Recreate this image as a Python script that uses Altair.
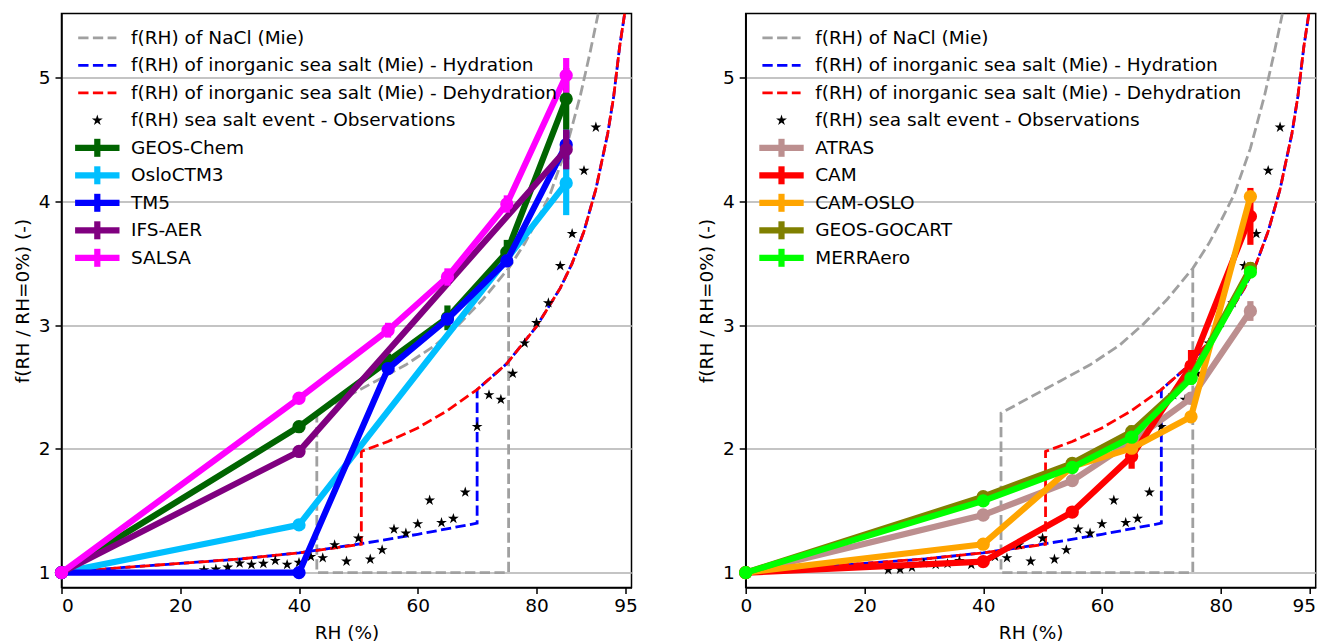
import altair as alt
import pandas as pd

# ---------------- axes ----------------
RH_TICKS = [0, 20, 40, 60, 80, 95]
F_TICKS = [1, 2, 3, 4, 5]
RH_MAX = 96.0
F_MIN, F_MAX = 0.88, 5.52
W, H = 570, 574

# ---------------- reference curves ----------------
ref_labels = [
    "f(RH) of NaCl (Mie)",
    "f(RH) of inorganic sea salt (Mie) - Hydration",
    "f(RH) of inorganic sea salt (Mie) - Dehydration",
    "f(RH) sea salt event - Observations",
]
ref_colors = ["#a0a0a0", "#0000ff", "#ff0000"]

nacl_rh = [90.4, 89.0, 87.4, 85.0, 82.3, 80.0, 78.0, 75.3, 71.0, 67.0, 63.0, 58.0,
           53.0, 48.0, 43.0, 43.0, 75.3, 75.3]
nacl_f = [5.52, 5.20, 4.86, 4.43, 4.06, 3.84, 3.66, 3.46, 3.21, 3.01, 2.84, 2.68,
          2.55, 2.42, 2.29, 1.00, 1.00, 3.46]

hyd_rh = [0, 10, 20, 30, 40, 50, 60, 70, 70, 75, 80, 84, 86, 88, 90, 92, 93, 94, 94.85]
hyd_f = [1.00, 1.04, 1.075, 1.11, 1.16, 1.23, 1.31, 1.40, 2.48, 2.69, 2.99, 3.30,
         3.50, 3.76, 4.10, 4.55, 4.85, 5.25, 5.52]

deh_rh = [94.85, 94, 93, 92, 90, 88, 86, 84, 80, 75, 70, 65, 60, 55, 50.5, 50.5,
          40, 30, 20, 10, 0]
deh_f = [5.52, 5.25, 4.85, 4.55, 4.10, 3.76, 3.50, 3.30, 2.99, 2.69, 2.48, 2.31,
         2.17, 2.06, 1.98, 1.23, 1.16, 1.11, 1.075, 1.04, 1.00]

obs_rh = [24, 26, 28, 30, 32, 34, 36, 38, 40, 42, 44, 46, 48, 50, 52, 54, 56, 58,
          60, 62, 64, 66, 68, 70, 72, 74, 76, 78, 80, 82, 84, 86, 88, 90]
obs_f = [1.022, 1.027, 1.043, 1.076, 1.065, 1.073, 1.097, 1.065, 1.081, 1.129,
         1.119, 1.224, 1.092, 1.278, 1.108, 1.184, 1.351, 1.318, 1.394, 1.585,
         1.404, 1.437, 1.650, 2.180, 2.437, 2.400, 2.610, 2.855, 3.020, 3.180,
         3.480, 3.740, 4.250, 4.600]

# ---------------- models ----------------
rh_full = [0, 40, 55, 65, 75, 85]
rh_short = [0, 40, 85]

left_names = ["GEOS-Chem", "OsloCTM3", "TM5", "IFS-AER", "SALSA"]
left_colors = ["#006400", "#00bfff", "#0000ff", "#800080", "#ff00ff"]
geoschem_f = [1.0, 2.18, 2.71, 3.06, 3.59, 4.83]
geoschem_e = [0.0, 0.04, 0.06, 0.10, 0.10, 0.25]
oslo_f = [1.0, 1.386, 4.15]
oslo_e = [0.0, 0.02, 0.26]
tm5_f = [1.0, 1.0, 2.65, 3.05, 3.52, 4.46]
tm5_e = [0.0, 0.0, 0.03, 0.03, 0.05, 0.12]
ifs_f = [1.0, 1.98, 4.42]
ifs_e = [0.0, 0.02, 0.16]
salsa_f = [1.0, 2.41, 2.96, 3.39, 3.98, 5.02]
salsa_e = [0.0, 0.03, 0.06, 0.07, 0.07, 0.14]

right_names = ["ATRAS", "CAM", "CAM-OSLO", "GEOS-GOCART", "MERRAero"]
right_colors = ["#bc8f8f", "#ff0000", "#ffa500", "#808000", "#00ff00"]
atras_f = [1.0, 1.466, 1.744, 2.06, 2.41, 3.115]
atras_e = [0.0, 0.02, 0.03, 0.04, 0.05, 0.08]
cam_f = [1.0, 1.089, 1.49, 1.94, 2.67, 3.88]
cam_e = [0.0, 0.02, 0.04, 0.10, 0.13, 0.23]
camoslo_f = [1.0, 1.23, 1.857, 2.006, 2.26, 4.04]
camoslo_e = [0.0, 0.01, 0.02, 0.02, 0.03, 0.04]
gocart_f = [1.0, 1.614, 1.884, 2.14, 2.58, 3.46]
gocart_e = [0.0, 0.02, 0.04, 0.05, 0.06, 0.05]
merra_f = [1.0, 1.58, 1.85, 2.095, 2.57, 3.43]
merra_e = [0.0, 0.01, 0.02, 0.03, 0.04, 0.04]

left_models = [
    (left_names[0], left_colors[0], rh_full, geoschem_f, geoschem_e),
    (left_names[1], left_colors[1], rh_short, oslo_f, oslo_e),
    (left_names[2], left_colors[2], rh_full, tm5_f, tm5_e),
    (left_names[3], left_colors[3], rh_short, ifs_f, ifs_e),
    (left_names[4], left_colors[4], rh_full, salsa_f, salsa_e),
]
right_models = [
    (right_names[0], right_colors[0], rh_full, atras_f, atras_e),
    (right_names[1], right_colors[1], rh_full, cam_f, cam_e),
    (right_names[2], right_colors[2], rh_full, camoslo_f, camoslo_e),
    (right_names[3], right_colors[3], rh_full, gocart_f, gocart_e),
    (right_names[4], right_colors[4], rh_full, merra_f, merra_e),
]

# ---------------- styles ----------------
FONT = "DejaVu Sans"
FS = 18.5
LW = 6.2
DASH = [10.3, 4.4]
DLW = 2.8
STAR = ("M0,-1 L0.2245,-0.309 L0.951,-0.309 L0.363,0.118 L0.588,0.809 L0,0.382 "
        "L-0.588,0.809 L-0.363,0.118 L-0.951,-0.309 L-0.2245,-0.309 Z")
STAR_SIZE = 130

# legend layout (pixels inside plot area)
ROW0, DY = 24.3, 27.5
HX0, HX1, HXM, TX = 16.7, 54.9, 35.8, 69.5
ERR_HALF = 9.0


def px_x(p):
    return p * RH_MAX / W


def px_y(p):
    return F_MAX - p * (F_MAX - F_MIN) / H


def make_x(flush):
    def X(field):
        ax = dict(values=RH_TICKS, title="RH (%)", grid=False, format="d")
        if flush:
            ax.update(labelFlush=6, labelFlushOffset=5.8)
        return alt.X(f"{field}:Q",
                     scale=alt.Scale(domain=[0, RH_MAX], nice=False, zero=False),
                     axis=alt.Axis(**ax))
    return X


def Y(field):
    return alt.Y(f"{field}:Q",
                 scale=alt.Scale(domain=[F_MIN, F_MAX], nice=False, zero=False),
                 axis=alt.Axis(values=F_TICKS, title="f(RH / RH=0%) (-)", grid=True,
                               format="d"))


def panel(models, flush):
    X = make_x(flush)
    layers = []
    refs = [(nacl_rh, nacl_f, ref_colors[0]), (hyd_rh, hyd_f, ref_colors[1]),
            (deh_rh, deh_f, ref_colors[2])]
    for rh, f, col in refs:
        df = pd.DataFrame({"rh": rh, "f": f, "o": list(range(len(rh)))})
        layers.append(alt.Chart(df).mark_line(
            color=col, strokeWidth=DLW, strokeDash=DASH, strokeCap="butt", clip=True
        ).encode(x=X("rh"), y=Y("f"), order="o:Q"))
    obs = pd.DataFrame({"rh": obs_rh, "f": obs_f})
    layers.append(alt.Chart(obs).mark_point(
        shape=STAR, filled=True, color="black", size=STAR_SIZE, opacity=1
    ).encode(x=X("rh"), y=Y("f")))

    for name, col, rh, f, e in models:
        df = pd.DataFrame({"rh": rh, "f": f,
                           "lo": [a - b for a, b in zip(f, e)],
                           "hi": [a + b for a, b in zip(f, e)],
                           "o": list(range(len(rh)))})
        base = alt.Chart(df)
        layers.append(base.mark_line(color=col, strokeWidth=LW, strokeCap="square",
                                     strokeJoin="round")
                      .encode(x=X("rh"), y=Y("f"), order="o:Q"))
        layers.append(base.mark_rule(color=col, strokeWidth=LW)
                      .encode(x=X("rh"), y=Y("lo"), y2=alt.Y2("hi:Q")))
        layers.append(base.mark_circle(color=col, size=177, opacity=1)
                      .encode(x=X("rh"), y=Y("f")))

    # ---- legend ----
    names = [m[0] for m in models]
    cols = [m[1] for m in models]
    labels = ref_labels + names
    cscale = alt.Scale(domain=ref_labels[:3] + names, range=ref_colors + cols)
    ys = [px_y(ROW0 + DY * i) for i in range(len(labels))]

    dash_df = pd.DataFrame({"label": ref_labels[:3], "x0": px_x(HX0), "x1": px_x(HX1),
                            "y": ys[:3]})
    layers.append(alt.Chart(dash_df).mark_rule(strokeWidth=DLW, strokeDash=DASH,
                                               strokeCap="butt")
                  .encode(x=X("x0"), x2=alt.X2("x1:Q"), y=Y("y"),
                          color=alt.Color("label:N", scale=cscale, legend=None)))
    star_df = pd.DataFrame({"label": [ref_labels[3]], "x": [px_x(HXM)], "y": [ys[3]]})
    layers.append(alt.Chart(star_df).mark_point(shape=STAR, filled=True, color="black",
                                                size=STAR_SIZE, opacity=1)
                  .encode(x=X("x"), y=Y("y")))
    mod_df = pd.DataFrame({
        "label": names, "x0": px_x(HX0), "x1": px_x(HX1), "xm": px_x(HXM),
        "y": ys[4:],
        "ylo": [px_y(ROW0 + DY * (4 + i) + ERR_HALF) for i in range(len(names))],
        "yhi": [px_y(ROW0 + DY * (4 + i) - ERR_HALF) for i in range(len(names))],
    })
    layers.append(alt.Chart(mod_df).mark_rule(strokeWidth=LW, strokeCap="square")
                  .encode(x=X("x0"), x2=alt.X2("x1:Q"), y=Y("y"),
                          color=alt.Color("label:N", scale=cscale, legend=None)))
    layers.append(alt.Chart(mod_df).mark_rule(strokeWidth=LW)
                  .encode(x=X("xm"), y=Y("ylo"), y2=alt.Y2("yhi:Q"),
                          color=alt.Color("label:N", scale=cscale, legend=None)))
    txt_df = pd.DataFrame({"label": labels, "x": px_x(TX), "y": ys})
    layers.append(alt.Chart(txt_df).mark_text(align="left", baseline="middle",
                                              font=FONT, fontSize=FS, color="black")
                  .encode(x=X("x"), y=Y("y"), text="label:N"))

    return alt.layer(*layers).properties(width=W, height=H)


chart = alt.hconcat(
    panel(left_models, False), panel(right_models, True), spacing=57.2
).resolve_scale(color="independent").properties(
    padding={"left": 3.5, "top": 4.5, "right": 0, "bottom": 0}
).configure_view(
    stroke="black", strokeWidth=1.5
).configure_axis(
    labelFont=FONT, labelFontSize=FS, titleFont=FONT, titleFontSize=FS,
    titleFontWeight="normal", labelColor="black", titleColor="black",
    tickColor="black", domainColor="black", tickSize=6.5, tickWidth=1.5,
    domainWidth=1.5, labelPadding=5, titlePadding=6,
    gridColor="#b0b0b0", gridWidth=1.5
).configure_axisX(
    tickSize=6, labelPadding=3, titlePadding=8, titleFontSize=18.5
)

chart.save("out.html", embed_options={"renderer": "svg", "actions": False})
